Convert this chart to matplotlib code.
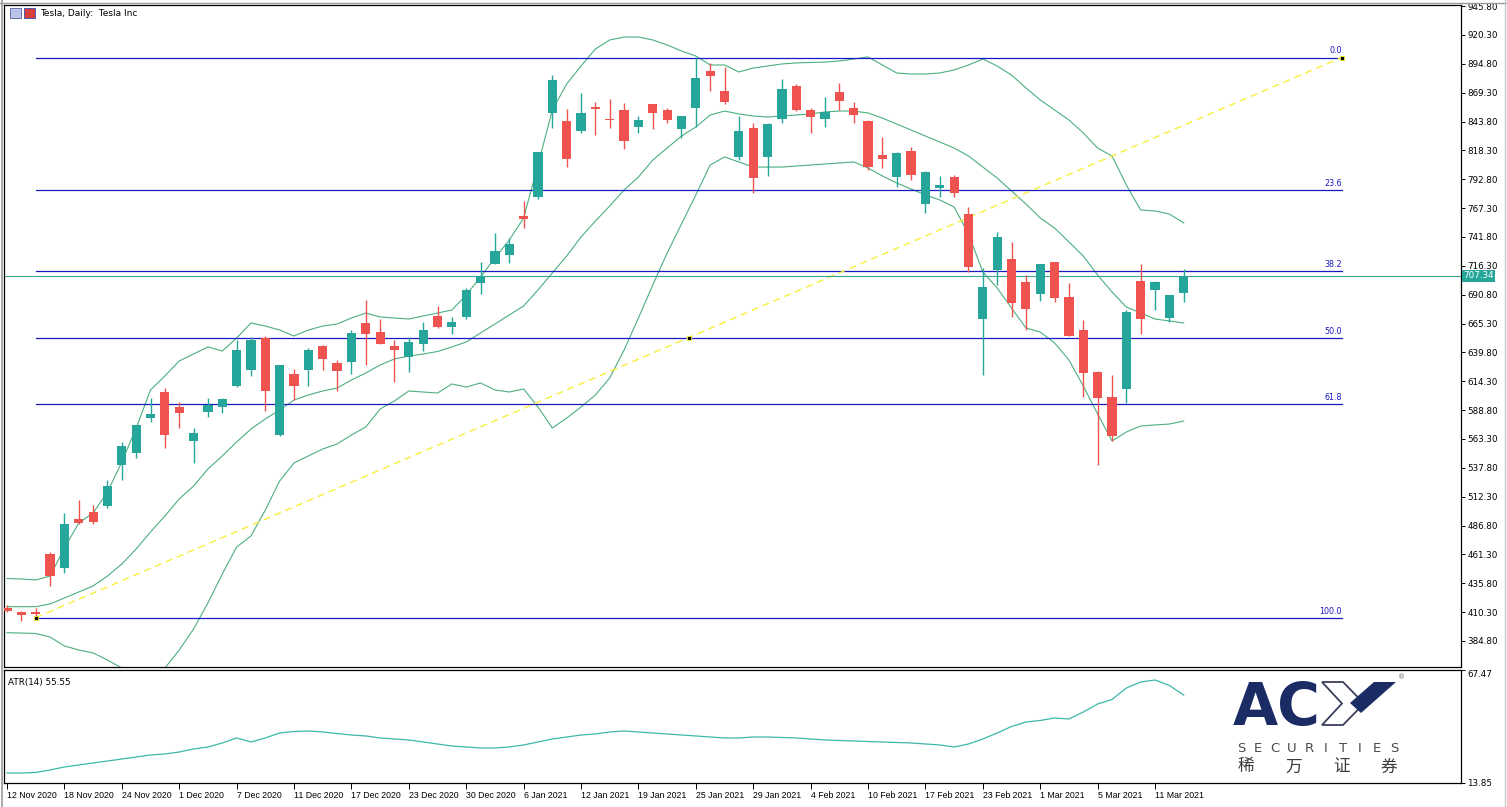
import matplotlib
matplotlib.use('Agg')
import matplotlib.pyplot as plt
import matplotlib.transforms as mtransforms
from matplotlib.patches import Polygon, Rectangle
from matplotlib.lines import Line2D
import numpy as np

# Tesla daily bars, 12 Nov 2020 .. 15 Mar 2021
opens = [414.2, 410.0, 410.1, 461.6, 449.5, 492.4, 498.8, 504.1, 540.6, 551.2,
         582.1, 604.5, 592.0, 561.5, 587.0, 591.9, 610.4, 624.3, 652.9, 566.8,
         620.4, 624.0, 645.7, 630.7, 631.3, 665.5, 658.1, 645.1, 635.5, 647.2,
         672.0, 662.5, 671.3, 700.9, 718.0, 725.9, 760.6, 776.9, 851.6, 844.3,
         835.7, 856.3, 846.1, 854.0, 838.7, 858.9, 854.0, 837.0, 856.0, 888.7,
         870.8, 812.2, 837.8, 812.8, 845.8, 875.5, 854.0, 846.3, 869.7, 856.0,
         844.3, 814.2, 794.5, 818.0, 770.7, 784.8, 794.5, 761.8, 668.9, 712.7,
         722.5, 701.7, 691.3, 719.4, 689.0, 659.6, 622.8, 600.2, 607.2, 703.1,
         694.9, 670.3, 692.1]
highs = [416.5, 411.5, 413.6, 463.1, 497.6, 509.4, 504.6, 527.0, 560.9, 575.8,
         599.2, 608.0, 595.9, 573.3, 599.8, 599.8, 650.8, 653.7, 654.3, 629.0,
         625.0, 644.0, 646.6, 633.0, 659.6, 686.1, 669.0, 650.8, 653.1, 666.4,
         680.7, 670.9, 697.0, 720.0, 745.6, 740.6, 774.0, 817.0, 884.9, 854.6,
         868.8, 860.8, 863.4, 860.5, 848.7, 859.5, 855.7, 848.7, 900.4, 895.8,
         891.7, 848.7, 842.3, 842.4, 881.1, 877.0, 855.5, 865.2, 878.1, 860.8,
         844.8, 830.4, 817.0, 821.5, 799.8, 795.7, 796.6, 768.6, 714.1, 746.5,
         737.6, 708.2, 718.0, 720.0, 701.4, 668.4, 623.5, 620.0, 677.4, 717.9,
         702.5, 690.5, 713.5]
lows = [410.0, 402.7, 405.4, 433.6, 444.6, 488.0, 488.5, 502.6, 527.0, 546.2,
        578.6, 555.4, 572.7, 541.8, 583.0, 586.0, 609.0, 619.2, 588.3, 566.0,
        597.7, 610.4, 624.3, 606.0, 620.7, 628.7, 647.0, 613.9, 622.8, 641.3,
        661.6, 656.1, 669.0, 691.4, 717.5, 719.1, 749.5, 775.2, 838.4, 803.9,
        834.0, 831.9, 838.4, 819.5, 833.4, 837.0, 842.3, 829.0, 839.3, 871.1,
        859.0, 810.0, 780.9, 796.0, 842.8, 853.5, 833.4, 839.3, 854.0, 842.3,
        801.0, 802.5, 786.2, 792.1, 762.7, 777.4, 777.4, 711.1, 619.8, 699.4,
        671.4, 659.6, 685.5, 684.6, 654.0, 600.2, 540.3, 561.3, 594.9, 656.1,
        677.3, 666.4, 684.6]
closes = [411.5, 407.8, 408.6, 442.2, 487.9, 489.0, 489.7, 522.0, 557.1, 575.4,
          585.3, 567.1, 586.1, 568.9, 593.1, 599.0, 641.9, 650.8, 606.0, 628.4,
          610.4, 641.6, 633.7, 623.6, 656.7, 656.1, 647.2, 642.1, 648.7, 659.6,
          662.6, 666.4, 694.9, 707.3, 729.7, 735.6, 757.4, 816.6, 880.5, 811.0,
          851.6, 854.6, 844.9, 826.9, 845.2, 851.6, 844.9, 848.6, 882.6, 884.1,
          861.4, 835.7, 793.6, 842.0, 872.3, 854.0, 848.1, 852.5, 862.2, 849.6,
          803.4, 810.7, 815.7, 796.5, 799.5, 787.7, 780.9, 715.0, 698.0, 742.2,
          683.7, 678.6, 717.6, 687.6, 654.3, 622.0, 599.2, 565.5, 675.3, 669.3,
          701.7, 690.3, 707.34]

# Bollinger bands
bb_upper = [440.0, 439.6, 438.7, 442.2, 467.0, 489.0, 497.9, 516.4, 543.0, 573.0,
            606.6, 619.0, 632.2, 638.4, 644.6, 641.0, 652.5, 665.8, 663.1, 659.6,
            654.3, 659.6, 663.1, 664.9, 670.2, 674.6, 671.1, 670.2, 669.3, 672.0,
            674.6, 677.3, 690.5, 706.4, 723.2, 739.1, 758.6, 805.4, 854.0, 877.0,
            892.9, 907.9, 915.9, 918.5, 918.5, 915.9, 911.5, 906.2, 901.7, 893.8,
            893.8, 887.6, 891.1, 892.9, 894.7, 895.6, 896.0, 896.4, 897.3, 899.1,
            900.9, 893.8, 886.7, 885.8, 885.8, 886.7, 889.4, 893.8, 899.1, 892.9,
            884.9, 873.5, 862.9, 854.0, 845.2, 833.7, 820.4, 813.4, 787.7, 765.6,
            764.8, 762.1, 754.2]
bb_middle = [415.1, 415.1, 415.1, 417.5, 422.8, 428.1, 433.4, 442.2, 452.8, 466.1,
             481.1, 495.2, 510.3, 521.7, 536.8, 548.3, 560.6, 572.1, 581.0, 588.9,
             597.7, 602.2, 605.7, 608.3, 615.4, 621.6, 628.7, 634.0, 636.6, 638.4,
             640.6, 644.6, 649.0, 657.0, 664.9, 672.9, 680.8, 695.0, 710.0, 725.0,
             741.8, 755.9, 769.2, 783.3, 794.8, 809.8, 820.4, 831.0, 839.0, 849.6,
             853.1, 850.5, 848.7, 847.8, 848.7, 849.6, 850.5, 852.3, 853.1, 853.1,
             851.4, 846.9, 841.6, 836.3, 831.0, 825.7, 820.4, 813.4, 803.6, 793.9,
             782.4, 771.0, 758.6, 749.7, 737.4, 725.0, 708.2, 693.2, 679.9, 674.6,
             669.3, 667.6, 665.8]
bb_lower = [392.1, 391.8, 391.4, 388.3, 380.4, 376.8, 374.2, 368.0, 360.9, 353.8,
            352.1, 360.9, 376.8, 395.4, 418.4, 444.0, 467.8, 477.6, 500.5, 526.2,
            542.1, 548.3, 554.4, 558.9, 566.8, 573.9, 589.8, 596.9, 605.7, 604.8,
            603.9, 611.9, 609.2, 612.8, 606.6, 604.8, 607.5, 591.6, 573.0, 581.8,
            591.6, 602.2, 617.2, 641.9, 670.2, 699.4, 727.6, 753.3, 778.9, 805.4,
            812.5, 808.1, 803.6, 803.6, 803.6, 804.5, 805.4, 806.3, 807.2, 808.1,
            802.8, 795.7, 789.5, 784.2, 778.9, 774.5, 768.3, 744.4, 710.9, 696.7,
            679.0, 661.4, 657.8, 648.1, 633.1, 610.1, 585.4, 561.5, 569.5, 574.8,
            575.7, 576.5, 579.2]

# ATR(14)
atr = [18.60, 18.60, 18.84, 20.02, 21.45, 22.40, 23.35, 24.30, 25.24, 26.19,
       27.14, 27.62, 28.57, 29.99, 30.94, 32.84, 35.21, 33.31, 35.21, 37.58,
       38.29, 38.53, 38.06, 37.34, 36.63, 36.16, 35.21, 34.73, 34.26, 33.31,
       32.36, 31.41, 30.94, 30.46, 30.46, 30.94, 31.89, 33.31, 34.73, 35.68,
       36.63, 37.11, 38.06, 38.53, 38.06, 37.58, 37.11, 36.63, 36.16, 35.68,
       35.21, 35.21, 35.68, 35.68, 35.45, 35.21, 34.73, 34.26, 34.02, 33.79,
       33.55, 33.31, 33.07, 32.84, 32.36, 31.89, 30.94, 32.36, 34.73, 37.58,
       40.67, 42.80, 43.51, 44.70, 44.22, 47.55, 51.34, 53.48, 58.93, 61.78,
       62.73, 60.12, 55.55]

date_labels = ['12 Nov 2020', '18 Nov 2020', '24 Nov 2020', '1 Dec 2020', '7 Dec 2020',
               '11 Dec 2020', '17 Dec 2020', '23 Dec 2020', '30 Dec 2020', '6 Jan 2021',
               '12 Jan 2021', '19 Jan 2021', '25 Jan 2021', '29 Jan 2021', '4 Feb 2021',
               '10 Feb 2021', '17 Feb 2021', '23 Feb 2021', '1 Mar 2021', '5 Mar 2021',
               '11 Mar 2021']
price_ticks = [945.80, 920.30, 894.80, 869.30, 843.80, 818.30, 792.80, 767.30,
               741.80, 716.30, 690.80, 665.30, 639.80, 614.30, 588.80, 563.30,
               537.80, 512.30, 486.80, 461.30, 435.80, 410.30, 384.80]
atr_ticks = [13.85, 67.47]

fib_levels = [0.0, 23.6, 38.2, 50.0, 61.8, 100.0]
fib_high = 900.40
fib_low = 405.40
last_price = 707.34

GREEN = '#26a69a'
RED = '#ef5350'
BAND = '#4caf7f'
FIB = '#1a1ac0'

W, H = 1507, 807
fig = plt.figure(figsize=(W / 100, H / 100), dpi=100)
L, R = 4 / W, 1461 / W
ax = fig.add_axes([L, 1 - 667 / H, R - L, (667 - 5) / H])
ax2 = fig.add_axes([L, 1 - 783 / H, R - L, (783 - 670) / H])

n = len(opens)
idx = np.arange(n)
o = np.array(opens)
c = np.array(closes)
colors = np.where(c >= o, GREEN, RED)

# bands first, candles over them
ax.plot(idx, bb_upper, color=BAND, lw=0.8)
ax.plot(idx, bb_middle, color=BAND, lw=0.8)
ax.plot(idx, bb_lower, color=BAND, lw=0.8)

ax.vlines(idx, lows, highs, colors=colors, lw=1.0, zorder=3)
body_lo = np.minimum(o, c)
body_h = np.maximum(np.abs(c - o), 1.0)
ax.bar(idx, body_h, bottom=body_lo, width=0.64, color=colors, linewidth=0, zorder=4)

# fibonacci retracement from the Nov low to the Jan high
fib_x0, fib_x1 = 2, 93
for lev in fib_levels:
    p = fib_high - (fib_high - fib_low) * lev / 100.0
    ax.plot([fib_x0, fib_x1], [p, p], color=FIB, lw=0.9, zorder=2)
    ax.annotate('%.1f' % lev, (fib_x1, p), xytext=(0, 1.5), textcoords='offset points',
                ha='right', va='bottom', fontsize=5.8, color=FIB)
ax.plot([fib_x0, fib_x1], [fib_low, fib_high], color='#f7ef3a', lw=1.0,
        dashes=(5, 3.5), zorder=2)
mid = (fib_low + fib_high) / 2
ax.plot([fib_x0, (fib_x0 + fib_x1) / 2, fib_x1], [fib_low, mid, fib_high], 's',
        ms=3, color='black', mec='#f7ef3a', mew=0.6, zorder=5)

# last price line
ax.axhline(last_price, color='#3aa690', lw=0.8, zorder=2)
tr = mtransforms.blended_transform_factory(ax.transAxes, ax.transData)
ax.text(1.0015, last_price, '%.2f' % last_price, transform=tr, fontsize=6.3,
        color='white', ha='left', va='center',
        bbox=dict(boxstyle='square,pad=0.12', fc=GREEN, ec='none'))

ax.set_xlim(-0.21, 101.32)
ax.set_ylim(361.8, 946.8)
ax.set_xticks([])
ax.yaxis.tick_right()
ax.set_yticks(price_ticks)
ax.set_yticklabels(['%.2f' % t for t in price_ticks])
ax.tick_params(axis='y', length=3, width=0.7, pad=1.5, labelsize=6.3)

# ATR window
ax2.plot(idx, atr, color='#3cb8a8', lw=0.9)
ax2.set_xlim(-0.21, 101.32)
ax2.set_ylim(13.85, 67.47)
ax2.yaxis.tick_right()
ax2.set_yticks(atr_ticks)
ax2.set_yticklabels(['%.2f' % t for t in atr_ticks])
ax2.tick_params(axis='y', length=3, width=0.7, pad=1.5, labelsize=6.3)
ylabs = ax2.get_yticklabels()
ylabs[0].set_va('center')
ylabs[1].set_va('top')
ax2.set_xticks(range(0, 81, 4))
ax2.set_xticklabels(date_labels, ha='left', family='Liberation Sans', fontsize=6.3)
ax2.tick_params(axis='x', length=4, width=0.7, pad=1.5)
ax2.text(0.003, 0.93, 'ATR(14) %.2f' % atr[-1], transform=ax2.transAxes,
         fontsize=6.3, va='top', ha='left')

for a in (ax, ax2):
    for s in a.spines.values():
        s.set_linewidth(0.9)
        s.set_color('black')

# title with two little window icons
def fpx(x, y):
    return (x / W, 1 - y / H)

fig.add_artist(Rectangle(fpx(10, 18), 11 / W, 10 / H, transform=fig.transFigure,
                         fc='#b8c4e8', ec='#5060a0', lw=0.6))
fig.add_artist(Rectangle(fpx(24, 18), 11 / W, 10 / H, transform=fig.transFigure,
                         fc='#d84040', ec='#3050b0', lw=0.6))
fig.text(40 / W, 1 - 13 / H, 'Tesla, Daily:  Tesla Inc', fontsize=6.5, va='center')

# window frame
fig.add_artist(Line2D([1.5 / W, 1.5 / W], [0, 1], color='#9a9a9a', lw=1.2))
fig.add_artist(Line2D([0, 1], [1 - 2.5 / H, 1 - 2.5 / H], color='#9a9a9a', lw=1.0))
fig.add_artist(Line2D([1505 / W, 1505 / W], [0, 1], color='#c8c8c8', lw=1.0))

# ACY logo
NAVY = '#1b2c64'
fig.text(1233 / W, 1 - 725 / H, 'AC', fontsize=42, fontweight='heavy', color=NAVY,
         ha='left', va='baseline')
chev = [(1322, 682), (1343, 682), (1364, 703.5), (1343, 725), (1322, 725), (1342, 703.5)]
fig.add_artist(Polygon([fpx(x, y) for x, y in chev], closed=True, transform=fig.transFigure,
                       fc='none', ec='#3a3f5a', lw=1.3))
slash = [(1374, 682), (1396, 682), (1361, 713), (1350, 703)]
fig.add_artist(Polygon([fpx(x, y) for x, y in slash], closed=True, transform=fig.transFigure,
                       fc=NAVY, ec='none'))
fig.text(1402 / W, 1 - 677 / H, '®', fontsize=5, color='#666666', ha='center', va='center')
for k, ch in enumerate('SECURITIES'):
    fig.text((1241 + k * 17) / W, 1 - 748 / H, ch, fontsize=9.5, color='#4a4a4a',
             ha='center', va='center')
for k, ch in enumerate('稀万证券'):
    fig.text((1246 + k * 47.5) / W, 1 - 767 / H, ch, fontsize=12, color='#3a3a3a',
             ha='center', va='center', family=['Noto Sans CJK SC', 'DejaVu Sans'])

fig.savefig('out.png', dpi=100)
